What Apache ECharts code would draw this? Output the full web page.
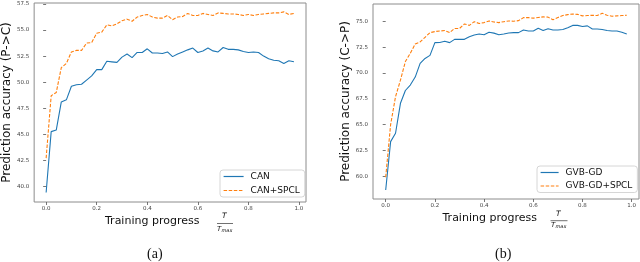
<!DOCTYPE html>
<html><head><meta charset="utf-8">
<script src="https://cdn.jsdelivr.net/npm/echarts@6/dist/echarts.min.js"></script>
<style>html,body{margin:0;padding:0;background:#fff}#c{width:640px;height:262px}</style>
</head><body><div id="c"></div>
<script>
const progress = [0.00,0.02,0.04,0.06,0.08,0.10,0.12,0.14,0.16,0.18,0.20,0.22,0.24,0.26,0.28,0.30,0.32,0.34,0.36,0.38,0.40,0.42,0.44,0.46,0.48,0.50,0.52,0.54,0.56,0.58,0.60,0.62,0.64,0.66,0.68,0.70,0.72,0.74,0.76,0.78,0.80,0.82,0.84,0.86,0.88,0.90,0.92,0.94,0.96,0.98];
const can = [39.4,45.25,45.4,48.1,48.3,49.6,49.75,49.8,50.2,50.6,51.2,51.2,52.0,51.95,51.9,52.4,52.7,52.35,52.85,52.85,53.2,52.8,52.8,52.75,52.9,52.45,52.7,52.9,53.1,53.27,52.85,53.0,53.27,53.0,52.9,53.33,53.15,53.15,53.1,52.95,52.85,52.9,52.85,52.5,52.25,52.1,52.05,51.8,52.05,51.95];
const canSpcl = [42.7,48.7,49.0,51.4,51.8,52.9,53.05,53.05,53.75,53.8,54.7,54.8,55.5,55.4,55.6,55.9,56.05,55.85,56.25,56.4,56.5,56.25,56.15,56.15,56.4,56.0,56.25,56.3,56.6,56.4,56.4,56.6,56.5,56.4,56.65,56.6,56.55,56.55,56.5,56.4,56.5,56.4,56.5,56.55,56.6,56.65,56.65,56.75,56.5,56.6];
const gvb = [58.67,63.35,64.16,67.06,68.3,68.83,69.6,70.93,71.4,71.7,72.93,72.95,73.06,72.93,73.25,73.25,73.25,73.5,73.67,73.77,73.7,73.93,73.85,73.7,73.77,73.87,73.9,73.9,74.16,74.06,74.06,74.32,74.1,74.28,74.16,74.16,74.2,74.38,74.6,74.6,74.5,74.55,74.25,74.25,74.2,74.1,74.06,74.06,73.93,73.77];
const gvbSpcl = [59.9,65.0,67.7,69.3,71.1,71.9,72.8,73.0,73.45,73.9,74.0,74.06,74.1,73.9,74.3,74.3,74.74,74.6,74.96,74.78,74.87,75.03,74.93,74.87,74.96,75.03,75.0,75.06,75.35,75.35,75.3,75.36,75.42,75.4,75.15,75.36,75.55,75.64,75.7,75.67,75.52,75.55,75.58,75.55,75.77,75.58,75.49,75.52,75.55,75.58];
const xTicks = [0, 0.2, 0.4, 0.6, 0.8, 1.0];
const yTicksA = [40, 42.5, 45, 47.5, 50, 52.5, 55, 57.5];
const yTicksB = [60, 62.5, 65, 67.5, 70, 72.5, 75];
const names = ['CAN', 'CAN+SPCL', 'GVB-GD', 'GVB-GD+SPCL'];
const yTitles = ['Prediction accuracy (P->C)', 'Prediction accuracy (C->P)'];

const pairs = arr => arr.map((v, i) => [progress[i], v]);
const FONT = 'DejaVu Sans';
const tickLabel = { fontSize: 5.5, color: '#444', fontFamily: FONT };

function xAxis(idx, min, max) {
  return {
    type: 'value', gridIndex: idx, min: min, max: max,
    axisLine: { show: false }, splitLine: { show: false },
    axisTick: { show: true, inside: false, length: 3, lineStyle: { color: '#555', width: 0.8 }, customValues: xTicks },
    axisLabel: Object.assign({ margin: 4, customValues: xTicks, formatter: v => v.toFixed(1) }, tickLabel)
  };
}
function yAxis(idx, min, max, ticks, title, gap) {
  return {
    type: 'value', gridIndex: idx, min: min, max: max,
    axisLine: { show: false }, splitLine: { show: false },
    axisTick: { show: true, inside: false, length: 3, lineStyle: { color: '#555', width: 0.8 }, customValues: ticks },
    axisLabel: Object.assign({ margin: 5, customValues: ticks, formatter: v => v.toFixed(1) }, tickLabel),
    name: title, nameLocation: 'middle', nameRotate: 90, nameGap: gap,
    nameTextStyle: { fontSize: 12, color: '#111', fontFamily: FONT }
  };
}
const blue = '#1f77b4', orange = '#ff7f0e';
function solid(name, data, xi) {
  return { type: 'line', name: name, xAxisIndex: xi, yAxisIndex: xi, data: data, showSymbol: false, symbol: 'none',
    lineStyle: { color: blue, width: 1.1 }, itemStyle: { color: blue }, animation: false };
}
function dashed(name, data, xi) {
  return { type: 'line', name: name, xAxisIndex: xi, yAxisIndex: xi, data: data, showSymbol: false, symbol: 'none',
    lineStyle: { color: orange, width: 1.1, type: [3.5, 1.6] }, itemStyle: { color: orange }, animation: false };
}
function legend(names2, left, top, w, gap) {
  return {
    data: names2, orient: 'vertical', left: left, top: top, itemWidth: w, itemHeight: 9, itemGap: gap,
    padding: [2, 5, 2, 3], borderColor: '#ccc', borderWidth: 0.8, borderRadius: 3, backgroundColor: 'rgba(255,255,255,0.8)',
    itemStyle: { color: 'rgba(0,0,0,0)', borderColor: 'rgba(0,0,0,0)', borderWidth: 0, opacity: 0 },
    lineStyle: { width: 1.2 },
    textStyle: { fontSize: 9, color: '#111', fontFamily: FONT, padding: [0, 0, 0, 2] }
  };
}
function fraction(cx, yT, yL, yB, half) {
  return [
    { type: 'text', left: cx - 3, top: yT - 4.5, style: { text: 'T', fontSize: 7.5, fontStyle: 'italic', fontFamily: FONT, fill: '#111' } },
    { type: 'line', shape: { x1: cx - half, y1: yL, x2: cx + half, y2: yL }, style: { stroke: '#111', lineWidth: 0.6 } },
    { type: 'text', left: cx - 8, top: yB - 3.5, style: { text: 'T', fontSize: 7, fontStyle: 'italic', fontFamily: FONT, fill: '#111' } },
    { type: 'text', left: cx - 3.5, top: yB - 1, style: { text: 'max', fontSize: 5, fontStyle: 'italic', fontFamily: FONT, fill: '#111' } }
  ];
}

const chart = echarts.init(document.getElementById('c'), null, { renderer: 'canvas' });
chart.setOption({
  animation: false,
  grid: [
    { left: 34, top: 3, width: 272, height: 199, show: true, borderColor: '#8c8c8c', borderWidth: 1, backgroundColor: 'transparent' },
    { left: 373, top: 4, width: 266, height: 195, show: true, borderColor: '#8c8c8c', borderWidth: 1, backgroundColor: 'transparent' }
  ],
  xAxis: [xAxis(0, -0.0474, 1.0277), xAxis(1, -0.0516, 1.0297)],
  yAxis: [yAxis(0, 38.49, 57.6, yTicksA, yTitles[0], 20), yAxis(1, 57.8, 76.67, yTicksB, yTitles[1], 18)],
  legend: [legend([names[0], names[1]], 220, 170, 20, 5), legend([names[2], names[3]], 537, 166, 18, 4.5)],
  series: [
    solid(names[0], pairs(can), 0), dashed(names[1], pairs(canSpcl), 0),
    solid(names[2], pairs(gvb), 1), dashed(names[3], pairs(gvbSpcl), 1)
  ],
  graphic: [
    { type: 'text', left: 105, top: 215.5, style: { text: 'Training progress', fontSize: 11, fontFamily: FONT, fill: '#111' } },
    { type: 'text', left: 442.5, top: 212.5, style: { text: 'Training progress', fontSize: 11, fontFamily: FONT, fill: '#111' } },
    ...fraction(225, 217, 223.5, 229, 8),
    ...fraction(559, 215, 220.7, 225, 8.5),
    { type: 'text', left: 147, top: 247, style: { text: '(a)', fontSize: 14, fontFamily: 'Liberation Serif', fill: '#111' } },
    { type: 'text', left: 495, top: 247, style: { text: '(b)', fontSize: 14, fontFamily: 'Liberation Serif', fill: '#111' } }
  ]
});
</script></body></html>
